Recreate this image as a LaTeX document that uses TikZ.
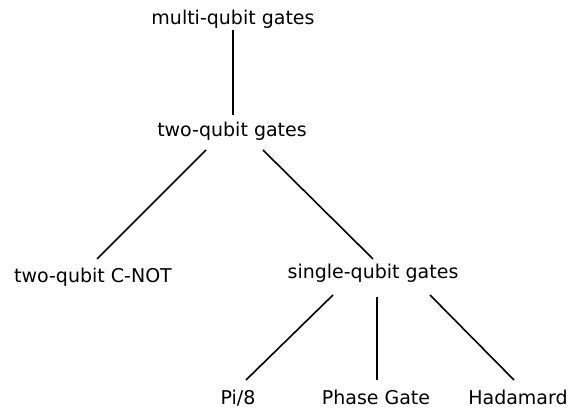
\documentclass[tikz,border=0pt]{standalone}
\usepackage{fontspec}
\setmainfont{DejaVu Sans}
\usetikzlibrary{calc}

\begin{document}
\begin{tikzpicture}[x=0.5pt, y=-0.5pt, font=\fontsize{9.5}{11}\selectfont,
            gate/.style={anchor=base, inner sep=0pt},
            branch/.style={line width=0.8pt, black}]

            % Bounding box
            \useasboundingbox (0,0) rectangle (568,410);

            % Gate nodes
            \node[gate] (multi) at (233,25) {multi-qubit gates};
            \node[gate] (two) at (232,137) {two-qubit gates};
            \node[gate] (cnot) at (93,283) {two-qubit C-NOT};
            \node[gate] (single) at (373,279) {single-qubit gates};
            \node[gate] (pi8) at (238,405) {Pi/8};
            \node[gate] (phase) at (376,405) {Phase Gate};
            \node[gate] (hadamard) at (518,405) {Hadamard};

            % Tree branches
            \draw[branch] ($(multi.base)+(0,5)$) -- ($(two.base)+(1,-22)$);
            \draw[branch] ($(two.base)+(-26,13)$) -- ($(cnot.base)+(4,-24)$);
            \draw[branch] ($(two.base)+(31,13)$) -- ($(single.base)+(0,-20)$);
            \draw[branch] ($(single.base)+(-40,16)$) -- ($(pi8.base)+(8,-25)$);
            \draw[branch] ($(single.base)+(4,18)$) -- ($(phase.base)+(1,-25)$);
            \draw[branch] ($(single.base)+(57,16)$) -- ($(hadamard.base)+(-4,-25)$);
        \end{tikzpicture}
\end{document}
